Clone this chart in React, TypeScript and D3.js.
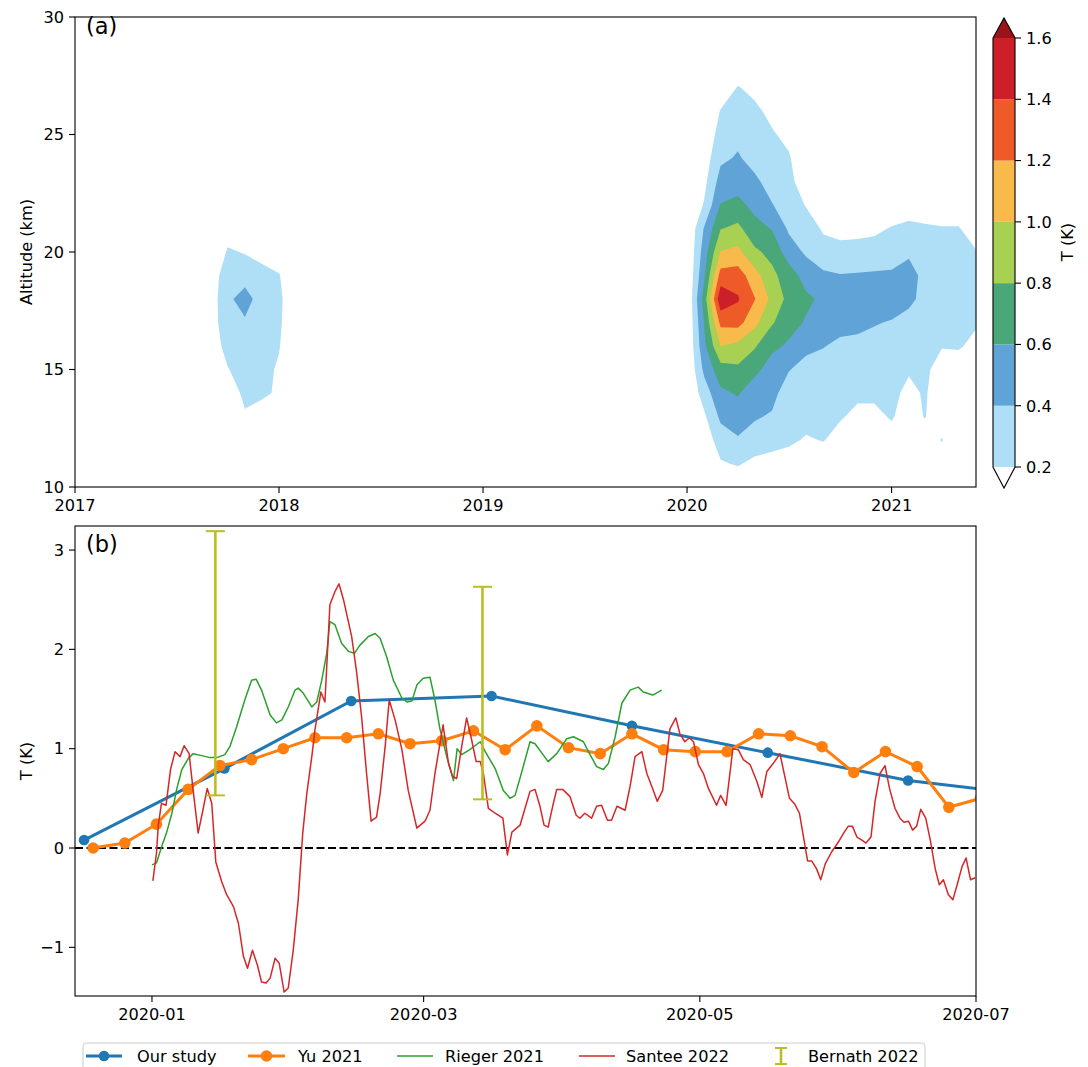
import React from "react";
import * as d3 from "d3";

// ---------------- panel (a): monthly T anomaly, nodes on the 1st of the month, 1 km levels ----------------
const eventMonths = [
  "2019-12-01", "2020-01-01", "2020-02-01", "2020-03-01", "2020-04-01", "2020-05-01", "2020-06-01",
  "2020-07-01", "2020-08-01", "2020-09-01", "2020-10-01", "2020-11-01", "2020-12-01", "2021-01-01",
  "2021-02-01", "2021-03-01", "2021-04-01", "2021-05-01", "2021-06-01", "2021-07-01",
];
const eventAltitudes = [10, 11, 12, 13, 14, 15, 16, 17, 18, 19, 20, 21, 22, 23, 24, 25, 26, 27, 28];
// one row per altitude (10 km first), one column per month
const eventT = [
  [0, 0, 0, 0.05, 0.05, 0, 0, 0, 0, 0, 0, 0, 0, 0, 0, 0, 0, 0, 0, 0],
  [0, 0, 0.05, 0.18, 0.22, 0.15, 0.12, 0.1, 0.05, 0.08, 0, 0, 0, 0.05, 0, 0, 0.1, 0, 0, 0],
  [0, 0, 0.08, 0.3, 0.38, 0.32, 0.28, 0.24, 0.18, 0.21, 0.12, 0.05, 0.05, 0.12, 0.05, 0.1, 0.21, 0.05, 0, 0],
  [0, 0, 0.17, 0.44, 0.5, 0.42, 0.38, 0.28, 0.27, 0.25, 0.22, 0.15, 0.15, 0.22, 0.1, 0.21, 0.1, 0.05, 0, 0],
  [0, 0, 0.3, 0.56, 0.62, 0.47, 0.46, 0.3, 0.3, 0.27, 0.25, 0.24, 0.24, 0.25, 0.15, 0.22, 0.1, 0.08, 0.05, 0.05],
  [0, 0, 0.45, 0.72, 0.76, 0.66, 0.5, 0.41, 0.33, 0.3, 0.28, 0.28, 0.27, 0.27, 0.22, 0.24, 0.12, 0.1, 0.1, 0.1],
  [0, 0, 0.56, 1.0, 0.95, 0.82, 0.65, 0.57, 0.45, 0.41, 0.35, 0.34, 0.3, 0.29, 0.25, 0.25, 0.21, 0.22, 0.15, 0.2],
  [0, 0, 0.62, 1.25, 1.27, 1.06, 0.82, 0.68, 0.58, 0.5, 0.48, 0.46, 0.42, 0.38, 0.28, 0.27, 0.24, 0.25, 0.22, 0.24],
  [0, 0, 0.7, 1.55, 1.42, 1.21, 0.95, 0.74, 0.64, 0.56, 0.52, 0.52, 0.53, 0.55, 0.48, 0.3, 0.27, 0.27, 0.24, 0.25],
  [0, 0, 0.58, 1.28, 1.3, 1.08, 0.85, 0.7, 0.52, 0.44, 0.41, 0.42, 0.43, 0.44, 0.5, 0.33, 0.3, 0.28, 0.24, 0.23],
  [0, 0, 0.5, 1.01, 1.05, 0.84, 0.74, 0.5, 0.37, 0.26, 0.25, 0.25, 0.26, 0.28, 0.36, 0.28, 0.26, 0.25, 0.21, 0.16],
  [0, 0, 0.42, 0.79, 0.85, 0.66, 0.59, 0.37, 0.28, 0.18, 0.15, 0.16, 0.17, 0.21, 0.24, 0.22, 0.21, 0.21, 0.12, 0.1],
  [0, 0, 0.22, 0.61, 0.65, 0.55, 0.41, 0.3, 0.19, 0.1, 0.05, 0.05, 0.05, 0.1, 0.12, 0.12, 0.1, 0.1, 0.05, 0.05],
  [0, 0, 0.15, 0.48, 0.52, 0.44, 0.32, 0.25, 0.1, 0.05, 0, 0, 0, 0.03, 0.03, 0.03, 0, 0, 0, 0],
  [0, 0, 0.1, 0.36, 0.42, 0.33, 0.27, 0.22, 0.05, 0, 0, 0, 0, 0, 0, 0, 0, 0, 0, 0],
  [0, 0, 0.05, 0.28, 0.35, 0.28, 0.22, 0.15, 0, 0, 0, 0, 0, 0, 0, 0, 0, 0, 0, 0],
  [0, 0, 0, 0.21, 0.28, 0.24, 0.15, 0.05, 0, 0, 0, 0, 0, 0, 0, 0, 0, 0, 0, 0],
  [0, 0, 0, 0.08, 0.21, 0.15, 0.05, 0, 0, 0, 0, 0, 0, 0, 0, 0, 0, 0, 0, 0],
  [0, 0, 0, 0, 0.05, 0.05, 0, 0, 0, 0, 0, 0, 0, 0, 0, 0, 0, 0, 0, 0],
];

// small 2017 feature
const blobMonths = ["2017-08-01", "2017-09-01", "2017-10-01", "2017-11-01", "2017-12-01", "2018-01-01", "2018-02-01"];
const blobAltitudes = [10, 11, 12, 13, 14, 15, 16, 17, 18, 19, 20, 21, 22];
const blobT = [
  [0, 0, 0, 0, 0, 0, 0],
  [0, 0, 0, 0, 0, 0, 0],
  [0, 0, 0, 0.05, 0, 0, 0],
  [0, 0, 0, 0.18, 0.1, 0.05, 0],
  [0, 0, 0.1, 0.24, 0.24, 0.17, 0],
  [0, 0, 0.19, 0.28, 0.25, 0.18, 0.05],
  [0, 0.1, 0.26, 0.3, 0.27, 0.21, 0.05],
  [0, 0.1, 0.33, 0.37, 0.28, 0.23, 0.05],
  [0, 0.1, 0.35, 0.5, 0.29, 0.24, 0.05],
  [0, 0.1, 0.3, 0.3, 0.28, 0.21, 0.05],
  [0, 0, 0.22, 0.19, 0.12, 0.1, 0],
  [0, 0, 0.12, 0.08, 0, 0, 0],
  [0, 0, 0, 0, 0, 0, 0],
];

const levels = [0.2, 0.4, 0.6, 0.8, 1.0, 1.2, 1.4, 1.6];
const levelColors = ["#afdff6", "#60a3d6", "#4aa77a", "#a8d052", "#f8ba4b", "#ee5b29", "#cc1f27", "#9b1319"];
const yearTicks = ["2017-01-01", "2018-01-01", "2019-01-01", "2020-01-01", "2021-01-01"];
const altTicks = [10, 15, 20, 25, 30];

// ---------------- panel (b) ----------------
const ourStudyDates = ["2019-12-17", "2020-01-17", "2020-02-14", "2020-03-16", "2020-04-16", "2020-05-16", "2020-06-16", "2020-07-16"];
const ourStudyT = [0.08, 0.8, 1.48, 1.53, 1.23, 0.96, 0.68, 0.52];

const yuDates = [
  "2019-12-19", "2019-12-26", "2020-01-02", "2020-01-09", "2020-01-16", "2020-01-23", "2020-01-30",
  "2020-02-06", "2020-02-13", "2020-02-20", "2020-02-27", "2020-03-05", "2020-03-12", "2020-03-19",
  "2020-03-26", "2020-04-02", "2020-04-09", "2020-04-16", "2020-04-23", "2020-04-30", "2020-05-07",
  "2020-05-14", "2020-05-21", "2020-05-28", "2020-06-04", "2020-06-11", "2020-06-18", "2020-06-25", "2020-07-02",
];
const yuT = [
  0.0, 0.05, 0.24, 0.59, 0.83, 0.89, 1.0, 1.11, 1.11, 1.15, 1.05, 1.08, 1.18, 0.99, 1.23,
  1.01, 0.95, 1.15, 0.99, 0.97, 0.97, 1.15, 1.13, 1.02, 0.76, 0.97, 0.82, 0.41, 0.5,
];

// days since 2020-01-01
const riegerDay = [
  0, 1.0, 2.1, 3.2, 4.4, 5.5, 6.6, 8.0, 9.1, 11.0, 12.8, 14.3, 16.1, 17.2, 18.7, 20.5, 22.0, 23.0, 24.2,
  26.1, 27.5, 28.7, 30.1, 31.6, 32.3, 33.4, 35.3, 36.4, 37.5, 38.6, 39.3, 40.4, 41.9, 43.4, 44.7, 45.9,
  47.8, 49.3, 50.4, 51.8, 53.3, 55.2, 56.3, 57.4, 58.5, 59.9, 61.4, 62.5, 63.6, 65.1, 66.6, 67.4, 68.4,
  70.2, 72.5, 73.6, 75.8, 77.6, 79.1, 80.2, 81.7, 83.5, 84.6, 87.5, 89.4, 91.6, 93.1, 95.3, 96.4, 98.2,
  99.7, 100.8, 102.3, 103.8, 105.6, 107.4, 108.5, 110.6, 112.6,
];
const riegerT = [
  -0.17, -0.15, 0.01, 0.15, 0.35, 0.6, 0.79, 0.9, 0.95, 0.93, 0.91, 0.91, 0.94, 1.02, 1.22, 1.49, 1.69, 1.7, 1.59,
  1.34, 1.26, 1.29, 1.42, 1.59, 1.61, 1.56, 1.42, 1.47, 1.69, 1.96, 2.28, 2.25, 2.06, 1.98, 1.96, 2.04,
  2.13, 2.16, 2.11, 1.93, 1.69, 1.51, 1.47, 1.48, 1.64, 1.71, 1.72, 1.49, 1.2, 0.92, 0.68, 1.0, 0.94,
  0.99, 1.07, 0.97, 0.8, 0.58, 0.5, 0.53, 0.77, 1.07, 1.05, 0.87, 0.95, 1.1, 1.12, 1.07, 0.97, 0.82,
  0.79, 0.85, 1.12, 1.46, 1.59, 1.62, 1.57, 1.54, 1.59,
];

const santeeDay = [
  0.2, 1.0, 1.4, 2.1, 3.1, 4.1, 5.1, 6.2, 7.1, 8.2, 9.1, 10.2, 11.2, 12.2, 13.2, 14.1, 15.4, 16.5, 18.0,
  19.1, 20.2, 21.1, 22.2, 23.3, 24.2, 25.2, 26.1, 27.2, 28.1, 29.2, 30.1, 31.2, 32.3, 33.3, 34.2, 35.3,
  36.0, 37.3, 38.2, 39.3, 40.4, 41.3, 42.3, 44.1, 45.2, 46.3, 47.4, 48.4, 49.6, 50.4, 51.5, 52.4, 53.7,
  55.2, 56.6, 58.5, 60.3, 61.4, 62.5, 64.3, 65.5, 66.4, 67.3, 68.4, 69.5, 70.6, 71.6, 72.5, 73.2, 74.3,
  75.8, 77.5, 78.5, 79.5, 81.3, 82.4, 83.5, 84.6, 85.7, 86.6, 87.5, 88.5, 89.4, 90.7, 92.3, 93.7, 94.5,
  95.6, 97.1, 98.2, 99.3, 100.6, 101.5, 102.7, 104.5, 105.6, 106.7, 108.2, 109.3, 110.4, 111.6, 112.8,
  114.4, 115.7, 116.6, 117.7, 118.7, 119.6, 120.7, 121.8, 122.9, 124.7, 125.6, 126.8, 128.3, 129.5,
  130.6, 132.1, 133.6, 134.7, 135.8, 137.2, 138.7, 140.8, 142.0, 143.0, 144.8, 145.7, 146.8, 147.7,
  148.7, 150.1, 151.6, 152.9, 153.8, 154.7, 155.7, 156.8, 157.7, 158.8, 159.7, 160.8, 161.9, 162.9,
  164.1, 165.2, 166.1, 167.1, 168.0, 168.9, 169.8, 170.9, 171.9, 173.0, 173.9, 174.8, 175.9, 176.9,
  177.9, 178.9, 179.8, 180.8, 181.8,
];
const santeeT = [
  -0.33, -0.05, 0.23, 0.45, 0.43, 0.79, 0.97, 0.92, 1.03, 0.95, 0.58, 0.15, 0.37, 0.6, 0.45, -0.14, -0.34, -0.47, -0.59,
  -0.76, -1.09, -1.21, -1.03, -1.18, -1.35, -1.36, -1.31, -1.11, -1.16, -1.45, -1.41, -1.03, -0.52, 0.15, 0.55, 0.92,
  1.19, 1.57, 1.47, 2.45, 2.58, 2.66, 2.5, 2.13, 1.77, 1.32, 0.75, 0.27, 0.31, 0.55, 1.02, 1.49, 1.29,
  0.99, 0.58, 0.2, 0.27, 0.38, 0.75, 1.24, 0.85, 0.72, 0.7, 1.02, 1.31, 1.09, 0.87, 0.87, 0.75, 0.4,
  0.35, 0.3, -0.07, 0.16, 0.23, 0.4, 0.57, 0.59, 0.42, 0.23, 0.21, 0.42, 0.59, 0.59, 0.52, 0.33, 0.3,
  0.35, 0.3, 0.42, 0.43, 0.28, 0.28, 0.42, 0.38, 0.62, 0.92, 0.97, 0.75, 0.62, 0.47, 0.58,
  1.2, 1.31, 1.15, 1.07, 1.11, 1.07, 0.84, 0.75, 0.6, 0.43, 0.53, 0.43, 1.0, 0.99,
  0.89, 0.84, 0.67, 0.51, 0.77, 0.85, 0.95, 0.5, 0.44, 0.35, -0.13, -0.13, -0.21, -0.32,
  -0.16, -0.04, 0.06, 0.16, 0.22, 0.22, 0.11, 0.08, 0.05, 0.11, 0.47, 0.75, 0.83, 0.6,
  0.4, 0.3, 0.26, 0.27, 0.18, 0.22, 0.39, 0.3, 0.08, -0.21, -0.37, -0.32, -0.47, -0.52,
  -0.36, -0.19, -0.1, -0.32, -0.3,
];

const bernathDates = ["2020-01-15", "2020-03-14"];
const bernathT = [1.86, 1.56];
const bernathErr = [1.33, 1.07];

const monthTicks = ["2020-01-01", "2020-03-01", "2020-05-01", "2020-07-01"];
const tTicks = [-1, 0, 1, 2, 3];

const legendItems = ["Our study", "Yu 2021", "Rieger 2021", "Santee 2022", "Bernath 2022"];

// ---------------- layout ----------------
const W = 1088;
const H = 1067;
const left = 75;
const right = 976;
const aTop = 17;
const aBottom = 487;
const bTop = 526;
const bBottom = 996;
const FS = 16.2;
const BLUE = "#1f77b4";
const ORANGE = "#ff7f0e";
const GREEN = "#2ca02c";
const RED = "#d62728";
const OLIVE = "#bcbd22";

const parse = (s) => new Date(s + "T00:00:00Z");
const fromDay = (d) => new Date(Date.UTC(2020, 0, 1) + d * 86400000);

function contourLayers(grid, months, alts, xs, ys) {
  const n = months.length;
  const m = alts.length;
  const values = grid.flat();
  const px = months.map((d) => xs(parse(d)));
  // grid value i sits at contour coordinate i + 0.5
  const gx = (g) => {
    const t = g - 0.5;
    const i = Math.max(0, Math.min(n - 2, Math.floor(t)));
    return px[i] + (t - i) * (px[i + 1] - px[i]);
  };
  const gy = (g) => ys(alts[0] + (g - 0.5) * (alts[1] - alts[0]));
  const proj = d3.geoTransform({
    point(x, y) {
      this.stream.point(gx(x), gy(y));
    },
  });
  const path = d3.geoPath(proj);
  return d3
    .contours()
    .size([n, m])
    .thresholds(levels)(values)
    .map((c, k) => ({ d: path(c), fill: levelColors[k], key: k }));
}

export default function App() {
  const xA = d3.scaleUtc().domain([parse("2017-01-01"), parse("2021-06-01")]).range([left, right]);
  const yA = d3.scaleLinear().domain([10, 30]).range([aBottom, aTop]);
  const xB = d3.scaleUtc().domain([parse("2019-12-15"), parse("2020-07-01")]).range([left, right]);
  const yB = d3.scaleLinear().domain([-1.49, 3.242]).range([bBottom, bTop]);
  const yC = d3.scaleLinear().domain([0.2, 1.6]).range([467, 38]);

  const eventLayers = contourLayers(eventT, eventMonths, eventAltitudes, xA, yA);
  const blobLayers = contourLayers(blobT, blobMonths, blobAltitudes, xA, yA);

  const line = d3
    .line()
    .x((d) => d[0])
    .y((d) => d[1]);

  const ourPts = ourStudyDates.map((d, i) => [xB(parse(d)), yB(ourStudyT[i])]);
  const yuPts = yuDates.map((d, i) => [xB(parse(d)), yB(yuT[i])]);
  const riegerPts = riegerDay.map((d, i) => [xB(fromDay(d)), yB(riegerT[i])]);
  const santeePts = santeeDay.map((d, i) => [xB(fromDay(d)), yB(santeeT[i])]);

  const fmtMonth = d3.utcFormat("%Y-%m");
  const fmtYear = d3.utcFormat("%Y");
  const fmtT = d3.format("d");
  const x0 = 993;
  const x1 = 1015;
  const xm = (x0 + x1) / 2;

  const legY = 1056;
  const legHandles = [86, 248, 397, 579];
  const legText = [137, 298, 445, 626, 808];

  return (
    <svg
      width={W}
      height={H}
      style={{ position: "absolute", left: 0, top: 0, display: "block" }}
      fontFamily="DejaVu Sans, sans-serif"
    >
      <defs>
        <clipPath id="clipA">
          <rect x={left} y={aTop} width={right - left} height={aBottom - aTop} />
        </clipPath>
        <clipPath id="clipB">
          <rect x={left} y={bTop} width={right - left} height={bBottom - bTop} />
        </clipPath>
      </defs>
      <rect width={W} height={H} fill="#fff" />

      {/* ---------------- panel (a) ---------------- */}
      <g clipPath="url(#clipA)">
        {blobLayers.map((l) => (
          <path key={"b" + l.key} d={l.d} fill={l.fill} />
        ))}
        {eventLayers.map((l) => (
          <path key={"e" + l.key} d={l.d} fill={l.fill} />
        ))}
      </g>
      <rect x={left} y={aTop} width={right - left} height={aBottom - aTop} fill="none" stroke="#000" strokeWidth={1.1} />
      {yearTicks.map((t) => {
        const x = xA(parse(t));
        return (
          <g key={t}>
            <line x1={x} x2={x} y1={aBottom} y2={aBottom + 6} stroke="#000" strokeWidth={1.1} />
            <text x={x} y={aBottom + 24} fontSize={FS} textAnchor="middle">
              {fmtYear(parse(t))}
            </text>
          </g>
        );
      })}
      {altTicks.map((t) => (
        <g key={t}>
          <line x1={left - 6} x2={left} y1={yA(t)} y2={yA(t)} stroke="#000" strokeWidth={1.1} />
          <text x={left - 11} y={yA(t) + 5.8} fontSize={FS} textAnchor="end">
            {t}
          </text>
        </g>
      ))}
      <text transform={`translate(32,${(aTop + aBottom) / 2}) rotate(-90)`} fontSize={FS} textAnchor="middle">
        Altitude (km)
      </text>
      <text x={86} y={34} fontSize={22.5}>
        (a)
      </text>

      {/* colorbar */}
      {levels.slice(0, -1).map((v, k) => (
        <rect key={v} x={x0} y={yC(levels[k + 1])} width={x1 - x0} height={yC(v) - yC(levels[k + 1])} fill={levelColors[k]} />
      ))}
      <path d={`M${x0},${yC(1.6)}L${xm},18L${x1},${yC(1.6)}Z`} fill={levelColors[7]} />
      <path d={`M${x0},${yC(0.2)}L${xm},488L${x1},${yC(0.2)}Z`} fill="#fff" />
      <path
        d={`M${x0},${yC(1.6)}L${xm},18L${x1},${yC(1.6)}L${x1},${yC(0.2)}L${xm},488L${x0},${yC(0.2)}Z`}
        fill="none"
        stroke="#000"
        strokeWidth={1.1}
      />
      {levels.map((v) => (
        <g key={v}>
          <line x1={x1} x2={x1 + 6} y1={yC(v)} y2={yC(v)} stroke="#000" strokeWidth={1.1} />
          <text x={x1 + 11} y={yC(v) + 5.8} fontSize={FS}>
            {v.toFixed(1)}
          </text>
        </g>
      ))}
      <text transform={`translate(1073,242) rotate(-90)`} fontSize={FS} textAnchor="middle">
        T (K)
      </text>

      {/* ---------------- panel (b) ---------------- */}
      <g clipPath="url(#clipB)">
        <line x1={left} x2={right} y1={yB(0)} y2={yB(0)} stroke="#000" strokeWidth={2} strokeDasharray="8,3.5" />
        <path d={line(ourPts)} fill="none" stroke={BLUE} strokeWidth={3} />
        {ourPts.map((p, i) => (
          <circle key={i} cx={p[0]} cy={p[1]} r={5.3} fill={BLUE} />
        ))}
        <path d={line(yuPts)} fill="none" stroke={ORANGE} strokeWidth={3} />
        {yuPts.map((p, i) => (
          <circle key={i} cx={p[0]} cy={p[1]} r={5.8} fill={ORANGE} />
        ))}
        <path d={line(riegerPts)} fill="none" stroke={GREEN} strokeWidth={1.5} strokeLinejoin="round" />
        <path d={line(santeePts)} fill="none" stroke={RED} strokeWidth={1.5} strokeLinejoin="round" />
        {bernathDates.map((d, i) => {
          const x = xB(parse(d));
          const yt = yB(bernathT[i] + bernathErr[i]);
          const yb = yB(bernathT[i] - bernathErr[i]);
          return (
            <g key={d} stroke={OLIVE}>
              <line x1={x} x2={x} y1={yt} y2={yb} strokeWidth={2.6} />
              <line x1={x - 9.5} x2={x + 9.5} y1={yt} y2={yt} strokeWidth={2} />
              <line x1={x - 9.5} x2={x + 9.5} y1={yb} y2={yb} strokeWidth={2} />
            </g>
          );
        })}
      </g>
      <rect x={left} y={bTop} width={right - left} height={bBottom - bTop} fill="none" stroke="#000" strokeWidth={1.1} />
      {monthTicks.map((t) => {
        const x = xB(parse(t));
        return (
          <g key={t}>
            <line x1={x} x2={x} y1={bBottom} y2={bBottom + 6} stroke="#000" strokeWidth={1.1} />
            <text x={x} y={bBottom + 24} fontSize={FS} textAnchor="middle">
              {fmtMonth(parse(t))}
            </text>
          </g>
        );
      })}
      {tTicks.map((t) => (
        <g key={t}>
          <line x1={left - 6} x2={left} y1={yB(t)} y2={yB(t)} stroke="#000" strokeWidth={1.1} />
          <text x={left - 11} y={yB(t) + 5.8} fontSize={FS} textAnchor="end">
            {fmtT(t)}
          </text>
        </g>
      ))}
      <text transform={`translate(32,${(bTop + bBottom) / 2}) rotate(-90)`} fontSize={FS} textAnchor="middle">
        T (K)
      </text>
      <text x={86} y={552} fontSize={22.5}>
        (b)
      </text>

      {/* legend */}
      <rect x={83} y={1043} width={842} height={34} rx={3} fill="#fff" stroke="#cccccc" strokeWidth={1} />
      <line x1={legHandles[0]} x2={legHandles[0] + 36} y1={legY} y2={legY} stroke={BLUE} strokeWidth={3} />
      <circle cx={legHandles[0] + 18} cy={legY} r={5.3} fill={BLUE} />
      <line x1={legHandles[1]} x2={legHandles[1] + 37} y1={legY} y2={legY} stroke={ORANGE} strokeWidth={3} />
      <circle cx={legHandles[1] + 18.5} cy={legY} r={5.8} fill={ORANGE} />
      <line x1={legHandles[2]} x2={legHandles[2] + 36} y1={legY} y2={legY} stroke={GREEN} strokeWidth={1.5} />
      <line x1={legHandles[3]} x2={legHandles[3] + 36} y1={legY} y2={legY} stroke={RED} strokeWidth={1.5} />
      <g stroke={OLIVE}>
        <line x1={781} x2={781} y1={legY - 8} y2={legY + 8} strokeWidth={2.6} />
        <line x1={775} x2={787} y1={legY - 8} y2={legY - 8} strokeWidth={2} />
        <line x1={775} x2={787} y1={legY + 8} y2={legY + 8} strokeWidth={2} />
      </g>
      {legendItems.map((s, i) => (
        <text key={s} x={legText[i]} y={legY + 5.8} fontSize={FS}>
          {s}
        </text>
      ))}
    </svg>
  );
}
